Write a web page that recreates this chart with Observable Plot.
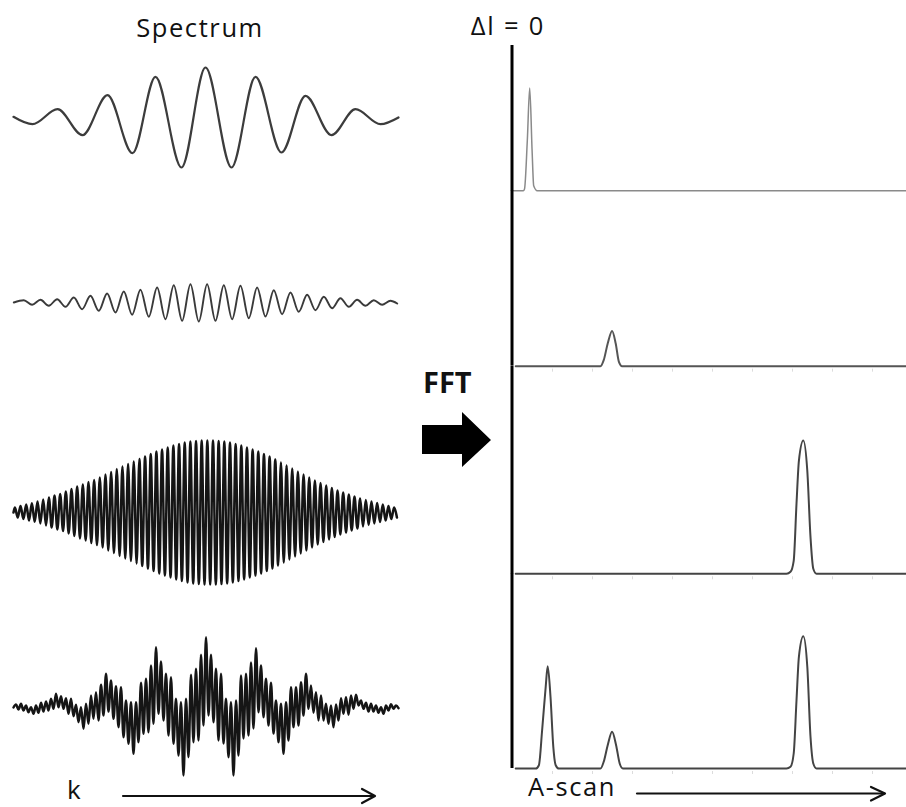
<!DOCTYPE html>
<html>
<head>
<meta charset="utf-8">
<script src="https://cdn.jsdelivr.net/npm/d3@7"></script>
<script src="https://cdn.jsdelivr.net/npm/@observablehq/plot@0.6"></script>
<style>
  html, body { margin: 0; padding: 0; background: #fff; }
  #wrap { position: relative; width: 906px; height: 807px; background: #fff; overflow: hidden; }
  #wrap > svg, #wrap > .plot { position: absolute; }
  #overlay { position: absolute; left: 0; top: 0; }
</style>
</head>
<body>
<div id="wrap"></div>
<script>
// ---------------- DATA ----------------
// Spectrum 1: extrema of the slow interferogram (k units, amplitude a.u.)
const spec1K = [0, 19, 44, 69, 94, 119, 142, 168, 192, 218, 242, 268, 292, 318, 342, 367, 385];
const spec1A = [0.7, -6.7, 8.3, -17.7, 22.3, -35.7, 40.7, -50, 50, -50, 40.7, -35, 21.7, -17.7, 8.3, -6.7, 0];

// Spectrum 2: successive extrema (top, bottom, ...) at equal half-period steps
const spec2Start = 0.3, spec2First = 10.3, spec2Step = 8.333, spec2End = 383.7;
const spec2A = [2.3, -2.3, 2.7, -3.3, 3.3, -4.3, 5, -6.7, 6.7, -8.3, 9, -10, 11, -12.3, 12.7, -14.3,
  15, -16.7, 17.3, -18.3, 18.3, -19, 18.3, -18.3, 17.3, -16.7, 16.7, -15.7, 15, -14, 12.3, -11.7,
  10, -9.3, 7.7, -7.7, 5.7, -5.7, 4.3, -4.3, 2.7, -3.3, 2.3, -2.3, 1.7];

// Spectrum 3: envelope amplitude of each fast fringe
const spec3First = 1.4, spec3Period = 5.66;
const spec3Env = [5, 6.5, 8, 9.3, 11, 13, 15, 17, 18.5, 21, 23.5, 26, 28, 30.5, 32.5, 35, 38, 40.5,
  43.5, 46, 48.5, 51, 53.5, 56, 58.5, 61, 63, 65, 67, 68.5, 70, 71, 71.5, 72, 72, 72, 71.5, 71,
  70, 68.5, 67, 65, 63, 61, 58.5, 56, 53, 50, 47, 44, 41, 38, 35, 32, 29.5, 27, 24.5, 22, 20,
  18, 16, 14, 12.5, 11, 9.5, 8, 6.5, 5];

// Spectrum 4: top and bottom of each fast fringe (multi-reflector spectrum)
const spec4First = 2.5, spec4Period = 5;
const spec4Top = [3, 3.7, 2, 0.3, 2, 4.7, 6, 8.7, 13.7, 11.3, 9.3, 8.7, 2.7, 0.3, 3.7, 12, 15.3, 22.7,
  33.7, 27, 21.3, 20.3, 7, 5.3, 5.3, 24.7, 28.7, 42, 60.3, 46, 33.7, 30.3, 8.7, 5.3, 8.7, 32.7, 38.7,
  52.7, 70.3,
  52.7, 38.7, 33.7, 8.7, 5.3, 7, 32, 33.7, 45, 59.3, 42, 28.7, 24.7, 7, 3.7, 5.3, 20.3, 20.3, 25.3,
  33.7, 22, 15.3, 12, 3.7, 2, 3, 9.3, 10.3, 12, 12.7, 7, 4.7, 3.7, 2, 0.3, 2, 3.3, 2];
const spec4Bottom = [-2, -3, -4.7, -6.3, -5.3, -4, -3, -1.3, 0.3, -1.3, -6.3, -8.7, -14.7, -21.3, -16.3,
  -11.3, -13, -8, -4, -11.3, -19.7, -29.7, -36.3, -46.3, -34.7, -26.3, -24.7, -16.3, -6.3, -13, -28,
  -36.3, -48, -68, -49.7, -34.7, -33, -18, -8,
  -14.7, -33, -36, -49.7, -68, -48, -31, -28, -21, -4.7, -9.7, -18, -26, -34.7, -46.3, -33, -19.7,
  -18, -8, -1.3, -5.3, -13, -13, -16.3, -19.7, -13, -6.3, -7.3, -1.3, 2, -1.3, -4, -4, -5.3, -6.3,
  -3, -1.3, -0.7];

// A-scans (depth in tick units, amplitude a.u.)
const ascanTicks = [1, 2, 3, 4, 5, 6, 7, 8, 9];
const row1Depth = [0.03, 0.27, 0.3, 0.37, 0.43, 0.49, 0.53, 0.62, 9.83];
const row1Amp   = [0, 0, 1.7, 50, 102.7, 40, 5, 0, 0];
const row2Depth = [0.08, 2.2, 2.28, 2.38, 2.49, 2.58, 2.66, 2.74, 9.83];
const row2Amp   = [0, 0, 6, 22.7, 35.3, 22.7, 4.3, 0, 0];
const row3Depth = [0.08, 6.85, 6.95, 7.03, 7.1, 7.16, 7.27, 7.37, 7.45, 7.52, 7.6, 9.83];
const row3Amp   = [0, 0, 2, 13, 70, 113, 133.3, 103, 36.7, 5, 0, 0];
const row4Depth = [0.08, 0.58, 0.66, 0.74, 0.83, 0.88, 0.95, 1.02, 1.08, 1.16,
  2.2, 2.28, 2.38, 2.49, 2.59, 2.68, 2.76,
  6.85, 6.95, 7.03, 7.1, 7.16, 7.27, 7.37, 7.45, 7.52, 7.6, 9.83];
const row4Amp = [0, 0, 3.3, 38, 81.7, 102.3, 71.7, 21.7, 3.3, 0,
  0, 6.7, 23.3, 36.7, 23.3, 5, 0,
  0, 1.7, 15, 68, 111.7, 132.3, 101.7, 31.7, 5, 0, 0];

// ---------------- TABLES ----------------
const spec1 = spec1K.map((k, i) => ({k, a: spec1A[i]}));
const spec2 = [{k: spec2Start, a: 0}, ...spec2A.map((a, i) => ({k: spec2First + i * spec2Step, a})), {k: spec2End, a: -1}];
const spec3 = [{k: 0, a: 0}];
spec3Env.forEach((e, i) => {
  spec3.push({k: spec3First + i * spec3Period, a: e});
  spec3.push({k: spec3First + (i + 0.5) * spec3Period, a: -e});
});
const spec4 = [{k: 0, a: 0}];
spec4Top.forEach((t, i) => {
  spec4.push({k: spec4First + i * spec4Period, a: t});
  spec4.push({k: spec4First + (i + 0.5) * spec4Period, a: spec4Bottom[i]});
});
const rows = [
  {depth: row1Depth, amp: row1Amp, top: 45, bottom: 190.3, stroke: "#8a8a8a", width: 1.5, ticks: false},
  {depth: row2Depth, amp: row2Amp, top: 190.3, bottom: 366, stroke: "#555", width: 2, ticks: true},
  {depth: row3Depth, amp: row3Amp, top: 366, bottom: 573.3, stroke: "#444", width: 2, ticks: true},
  {depth: row4Depth, amp: row4Amp, top: 573.3, bottom: 768.3, stroke: "#444", width: 2, ticks: true}
];

// ---------------- DRAW ----------------
const wrap = document.getElementById("wrap");
const transparent = {background: "transparent", overflow: "visible"};

function place(node, left, top) {
  node.style.position = "absolute";
  node.style.left = left + "px";
  node.style.top = top + "px";
  wrap.appendChild(node);
}

const spectra = [
  {data: spec1, center: 116.7, half: 58, stroke: "#3c3c3c", width: 2.2},
  {data: spec2, center: 301.7, half: 26, stroke: "#3a3a3a", width: 1.9},
  {data: spec3, center: 512, half: 80, stroke: "#151515", width: 2.5},
  {data: spec4, center: 706.7, half: 78, stroke: "#151515", width: 2.5}
];
for (const s of spectra) {
  const p = Plot.plot({
    width: 410, height: 2 * s.half,
    marginLeft: 13, marginRight: 12, marginTop: 0, marginBottom: 0,
    x: {domain: [0, 385], axis: null},
    y: {domain: [-s.half, s.half], axis: null},
    style: transparent,
    marks: [Plot.line(s.data, {x: "k", y: "a", curve: "monotone-x", stroke: s.stroke, strokeWidth: s.width})]
  });
  place(p, 0, s.center - s.half);
}

for (const r of rows) {
  const h = r.bottom - r.top;
  const data = r.depth.map((d, i) => ({d, a: r.amp[i]}));
  const marks = [
    Plot.line(data, {x: "d", y: "a", curve: "monotone-x", stroke: r.stroke, strokeWidth: r.width}),
    Plot.ruleX([0], {stroke: "#000", strokeWidth: 3, dx: -0.5})
  ];
  if (r.ticks) marks.push(Plot.ruleX(ascanTicks, {x: d => d, y1: -3, y2: -6, stroke: "#dcdcdc", strokeWidth: 1}));
  const p = Plot.plot({
    width: 406, height: h,
    marginLeft: 12, marginRight: 1, marginTop: 0, marginBottom: 0,
    x: {domain: [0, 9.825], axis: null},
    y: {domain: [0, h], axis: null},
    style: transparent,
    marks
  });
  place(p, 500, r.top);
}

// ---------------- ANNOTATIONS ----------------
const ns = "http://www.w3.org/2000/svg";
const ov = document.createElementNS(ns, "svg");
ov.setAttribute("id", "overlay");
ov.setAttribute("width", 906);
ov.setAttribute("height", 807);
ov.innerHTML = `
  <g font-family="'Open Sans', 'DejaVu Sans', sans-serif" fill="#111">
    <text x="200" y="36.5" font-size="25.5" text-anchor="middle" letter-spacing="1.6">Spectrum</text>
    <text x="508" y="35" font-size="25.5" text-anchor="middle" letter-spacing="1.8">Δl = 0</text>
    <text x="423" y="393" font-size="29" font-weight="700">FFT</text>
    <text x="67" y="799" font-size="26">k</text>
    <text x="528" y="796" font-size="25.5" letter-spacing="1.6">A-scan</text>
  </g>
  <polygon points="422,425 462,425 462,412 491,440 462,467 462,454 422,454" fill="#000"/>
  <g stroke="#111" stroke-width="2.2" fill="none" stroke-linecap="round" stroke-linejoin="round">
    <line x1="123" y1="796" x2="374" y2="796"/>
    <polyline points="362,789 375,796 362,803"/>
    <line x1="637" y1="793.5" x2="884" y2="793.5"/>
    <polyline points="871,787 885,793.5 871,800.5"/>
  </g>`;
wrap.appendChild(ov);
</script>
</body>
</html>
